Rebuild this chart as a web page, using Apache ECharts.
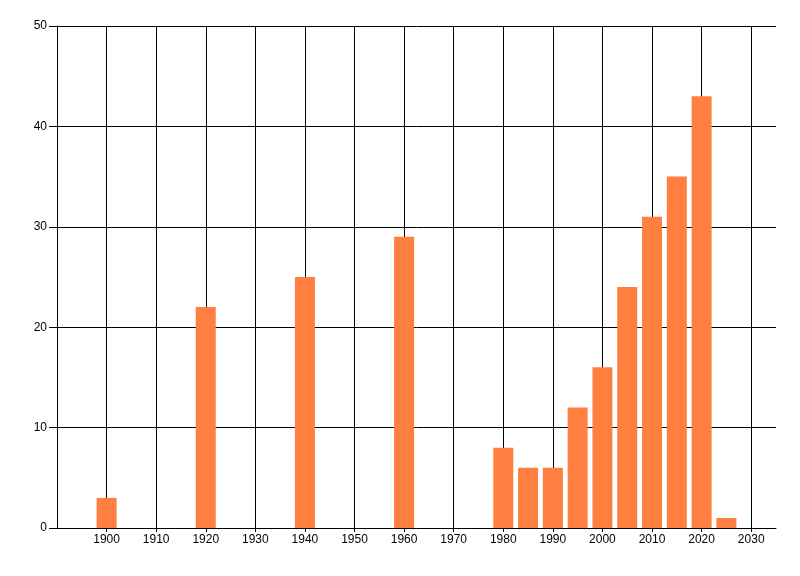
<!DOCTYPE html>
<html>
<head>
<meta charset="utf-8">
<script src="https://cdn.jsdelivr.net/npm/echarts@6/dist/echarts.min.js"></script>
<style>
  html, body { margin: 0; padding: 0; background: #fff; }
  #chart { width: 800px; height: 576px; }
</style>
</head>
<body>
<div id="chart"></div>
<script>
// years with a bar, and the bar heights
var years = [1900, 1920, 1940, 1960, 1980, 1985, 1990, 1995, 2000, 2005, 2010, 2015, 2020, 2025];
var counts = [3, 22, 25, 29, 8, 6, 6, 12, 16, 24, 31, 35, 43, 1];
// x axis runs 1890..2035 in 5 year steps, labels every 10 years
var axisStart = 1890;
var axisEnd = 2035;
var yTicks = [0, 10, 20, 30, 40, 50];

var categories = [];
for (var y = axisStart; y <= axisEnd; y += 5) {
  categories.push(String(y));
}
var barData = years.map(function (yr, i) {
  return [String(yr), counts[i]];
});

// every 10 years, but not the left edge
function decade(index) {
  return index > 0 && index % 2 === 0;
}

var textStyle = { color: '#000', fontFamily: 'Liberation Sans, Arial, sans-serif', fontSize: 12 };

var myChart = echarts.init(document.getElementById('chart'), null, { renderer: 'canvas' });
var option = {
  animation: false,
  backgroundColor: '#fff',
  grid: { left: 57, right: 24, top: 26, bottom: 48, containLabel: false },
  xAxis: {
    type: 'category',
    data: categories,
    boundaryGap: false,
    axisLine: { show: true, lineStyle: { color: '#000', width: 1 } },
    axisTick: { show: true, interval: decade, length: 4, lineStyle: { color: '#000' } },
    axisLabel: Object.assign({}, textStyle, { interval: decade, margin: 6 }),
    splitLine: { show: true, interval: 1, lineStyle: { color: '#000', width: 1 } }
  },
  yAxis: {
    type: 'value',
    min: yTicks[0],
    max: yTicks[yTicks.length - 1],
    interval: 10,
    axisLine: { show: true, lineStyle: { color: '#000', width: 1 } },
    axisTick: { show: true, length: 8, lineStyle: { color: '#000' } },
    axisLabel: Object.assign({}, textStyle, { margin: 10 }),
    splitLine: { show: true, lineStyle: { color: '#000', width: 1 } }
  },
  series: [{
    type: 'bar',
    data: barData,
    barWidth: 20,
    itemStyle: { color: '#FF7F40' },
    z: 3
  }]
};
myChart.setOption(option);
</script>
</body>
</html>
